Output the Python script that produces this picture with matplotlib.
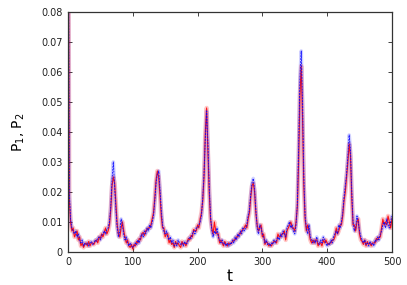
import numpy as np
import matplotlib
matplotlib.use("Agg")
import matplotlib.pyplot as plt

# time grid, step 2
t = np.arange(0, 501, 2)

# P1 (red), values in units of 1e-3
p1_milli = [
    150, 18, 10, 7, 8, 5, 6, 7, 4, 5,
    2, 3, 1.5, 2.5, 3, 2, 3.5, 2, 3, 3,
    2.5, 3.5, 4, 3, 5, 4.5, 6, 5, 6.5, 8,
    6, 7, 9, 14, 22, 25, 23, 16, 9, 6,
    5, 8, 10, 7, 5, 3, 4, 2, 1.5, 2.5,
    1, 2.5, 2, 3.5, 3, 4.5, 4, 6, 6.5, 5.5,
    7, 7.5, 8, 8, 9, 11, 13, 18, 24, 27,
    25, 19, 12, 8, 8, 5, 6, 6, 3, 4,
    2.5, 3, 1.5, 3.5, 2.5, 3, 2, 1.5, 3.5, 2.5,
    3, 2, 3.5, 4.5, 4, 5.5, 5, 7.5, 7, 7,
    9, 8, 11, 13, 17, 25, 40, 48, 33, 20,
    11, 8, 6, 10, 7, 6, 6, 3, 4, 3,
    2, 3.5, 2.5, 2, 3, 2.5, 3, 3.5, 4, 4,
    5, 5, 6, 6, 7, 7.5, 8, 9, 8, 11,
    13, 18, 22, 23, 20, 13, 9, 7, 8, 9,
    5, 6, 2.5, 3.5, 3, 2, 2.5, 2, 3, 3.5,
    3.5, 3, 6, 5, 5, 6, 6, 7, 4, 7,
    8, 9, 10, 8, 8, 7, 10, 15, 30, 52,
    62, 45, 22, 11, 7, 9, 7, 4, 3, 4,
    3, 4, 4, 2, 3, 3, 2, 4, 3, 4,
    3, 2.5, 3, 3, 4, 4, 5, 8, 6, 7,
    9, 9, 12, 17, 20, 25, 30, 36, 32, 18,
    9, 9, 7, 10, 11, 6, 4, 3.5, 2.5, 4,
    2, 3.5, 2.5, 3, 2, 3, 3, 3, 4.5, 4,
    5, 5, 8, 11, 9, 10, 9, 12, 10, 8,
    11,
]

# P2 (blue), values in units of 1e-3
p2_milli = [
    150, 20, 11, 8, 7, 6, 7, 5, 6, 4,
    3, 4, 2, 3, 2.5, 3, 2, 3, 3.5, 2.5,
    3, 4, 3.5, 4.5, 5, 4, 5.5, 6, 7, 6,
    7.5, 8, 10, 15, 24, 30, 22, 14, 8, 5,
    7, 11, 9, 6, 4, 5, 3, 2, 3, 2,
    1.5, 2, 3, 2.5, 4, 3, 5, 6, 5, 7,
    6, 8, 7, 9, 8, 10, 12, 17, 23, 26,
    27, 21, 14, 9, 7, 6, 7, 5, 4, 5,
    3, 4, 2, 3, 2, 4, 3, 2.5, 3, 2,
    3.5, 2.5, 3, 4, 5, 4.5, 6, 7, 6, 8,
    8, 9, 10, 12, 18, 26, 38, 47, 36, 22,
    12, 7, 5, 7, 6, 8, 5, 4, 3, 4,
    2.5, 3, 2, 3, 2, 3, 2.5, 4, 3, 5,
    4, 6, 5, 7, 6, 8, 7, 8, 9, 12,
    14, 19, 23, 24.5, 21, 14, 8, 6, 9, 8,
    6, 5, 3, 4, 2.5, 3, 2, 3, 2.5, 4,
    3, 4, 5, 4, 6, 5, 7, 6, 5, 8,
    9, 10, 8, 9, 7, 6, 9, 16, 35, 58,
    67, 50, 25, 12, 8, 6, 9, 5, 4, 3,
    4, 3, 5, 3, 2.5, 4, 3, 5, 4, 3,
    2, 3, 2.5, 4, 3, 5, 6, 7, 6, 9,
    8, 10, 13, 18, 22, 26, 32, 39, 34, 20,
    10, 7, 8, 12, 10, 7, 5, 4, 3, 4,
    2.5, 3, 2, 3.5, 2.5, 3, 2, 4, 3.5, 5,
    4, 6, 7, 9, 10, 8, 11, 9, 8, 10,
    12,
]

p1 = np.array(p1_milli) * 1e-3
p2 = np.array(p2_milli) * 1e-3

xticks = [0, 100, 200, 300, 400, 500]
yticks = [0, 0.01, 0.02, 0.03, 0.04, 0.05, 0.06, 0.07, 0.08]
ytick_labels = ["0", "0.01", "0.02", "0.03", "0.04", "0.05", "0.06", "0.07", "0.08"]

fig = plt.figure(figsize=(4.07, 2.85), dpi=100)
ax = fig.add_axes([0.167, 0.116, 0.796, 0.842])

# soft halo + thin core, to get the fuzzy look of the original
ax.plot(t, p1, color="#ff0000", lw=3.2, alpha=0.22, solid_capstyle="round")
ax.plot(t, p2, color="#0000ff", lw=2.6, alpha=0.18, solid_capstyle="round")
ax.plot(t, p1, color="#ff0000", lw=0.8, alpha=0.9)
ax.plot(t, p2, color="#0000ff", lw=0.7, alpha=0.85, ls=(0, (2, 1)))

ax.set_xlim(0, 500)
ax.set_ylim(0, 0.08)
ax.set_xticks(xticks)
ax.set_xticklabels([str(v) for v in xticks])
ax.set_yticks(yticks)
ax.set_yticklabels(ytick_labels)
ax.tick_params(direction="in", top=True, right=True, length=3, width=0.6,
               labelsize=7, colors="#222222", pad=4)

for s in ax.spines.values():
    s.set_linewidth(0.9)
    s.set_color("#333333")

ax.set_xlabel("t", fontsize=11, labelpad=1)
ax.set_ylabel("P$_1$, P$_2$", fontsize=10, labelpad=10)

plt.savefig("out.png", dpi=100)
plt.close()
